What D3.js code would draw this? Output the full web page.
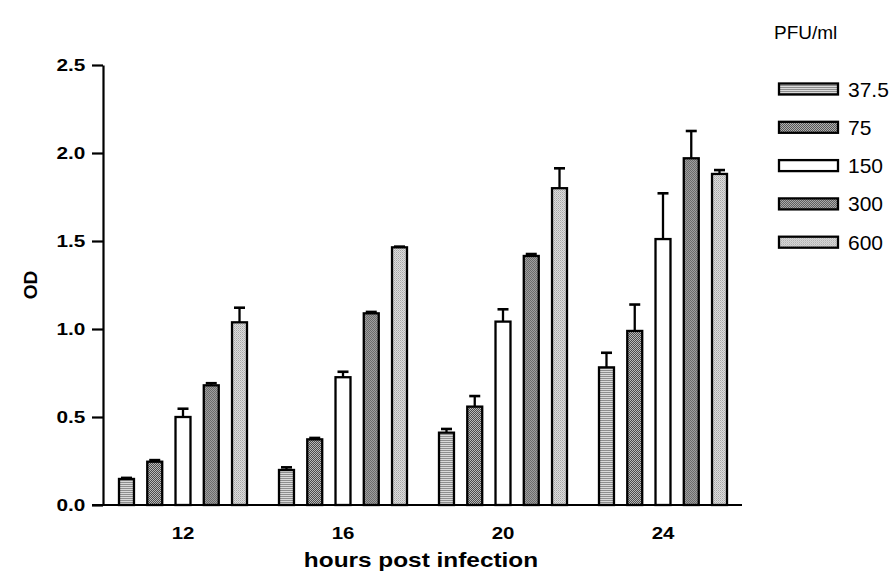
<!DOCTYPE html>
<html>
<head>
<meta charset="utf-8">
<script src="https://cdn.jsdelivr.net/npm/d3@7"></script>
<style>
  body { margin: 0; background: #fff; }
  text { font-family: "Liberation Sans", Arial, sans-serif; fill: #000; }
</style>
</head>
<body>
<div id="chart"></div>
<script>
// --- PART 1: DATA ---
const hours = ["12", "16", "20", "24"];
const doses = ["37.5", "75", "150", "300", "600"];

// mean OD per dose, one value per time point
const od37 = [0.148, 0.199, 0.411, 0.782];
const od75 = [0.246, 0.373, 0.559, 0.989];
const od150 = [0.500, 0.726, 1.042, 1.511];
const od300 = [0.680, 1.089, 1.415, 1.970];
const od600 = [1.038, 1.464, 1.800, 1.881];

// upper error bars
const err37 = [0.006, 0.015, 0.021, 0.083];
const err75 = [0.009, 0.008, 0.060, 0.150];
const err150 = [0.047, 0.031, 0.070, 0.260];
const err300 = [0.012, 0.008, 0.011, 0.155];
const err600 = [0.083, 0.004, 0.113, 0.022];

const yTicks = [0, 0.5, 1.0, 1.5, 2.0, 2.5];

const seriesValues = [od37, od75, od150, od300, od600];
const seriesErrors = [err37, err75, err150, err300, err600];

// flat table for the bars
const rows = [];
hours.forEach((h, i) => {
  doses.forEach((d, j) => {
    rows.push({ hour: h, dose: d, series: j, value: seriesValues[j][i], err: seriesErrors[j][i] });
  });
});

// --- PART 2: SVG + PATTERNS ---
const width = 893, height = 574;
const svg = d3.select("#chart").append("svg")
  .attr("width", width)
  .attr("height", height);

const defs = svg.append("defs");

// each pattern is a 2x2 tile: [topLeft, topRight, bottomLeft, bottomRight]
const patternCells = [
  ["#8e8e8e", "#8e8e8e", "#dadada", "#dadada"], // 37.5 horizontal stripes
  ["#111111", "#f4f4f4", "#f4f4f4", "#111111"], // 75 black/white dots
  ["#ffffff", "#ffffff", "#ffffff", "#ffffff"], // 150 white
  ["#555555", "#b4b4b4", "#b4b4b4", "#555555"], // 300 dark checker
  ["#a6a6a6", "#dedede", "#dedede", "#bcbcbc"]  // 600 light grey
];

patternCells.forEach((cells, k) => {
  const p = defs.append("pattern")
    .attr("id", "pat" + k)
    .attr("patternUnits", "userSpaceOnUse")
    .attr("width", 2)
    .attr("height", 2);
  cells.forEach((c, n) => {
    p.append("rect")
      .attr("x", n % 2)
      .attr("y", Math.floor(n / 2))
      .attr("width", 1)
      .attr("height", 1)
      .attr("fill", c)
      .attr("shape-rendering", "crispEdges");
  });
});

// --- PART 3: SCALES ---
const x0 = d3.scaleBand().domain(hours).range([103, 743]).padding(0);
const x1 = d3.scaleBand().domain(doses).range([16, 144]).paddingInner(0.47).paddingOuter(0);
const y = d3.scaleLinear().domain([0, 2.5]).range([505, 65]);

// --- PART 4: BARS + ERROR BARS ---
const groups = svg.append("g").selectAll("g")
  .data(rows)
  .enter()
  .append("g")
  .attr("transform", d => `translate(${x0(d.hour) + x1(d.dose)},0)`);

// error bar stem + cap (drawn first so the bar outline sits on top)
groups.append("line")
  .attr("x1", x1.bandwidth() / 2)
  .attr("x2", x1.bandwidth() / 2)
  .attr("y1", d => y(d.value))
  .attr("y2", d => y(d.value + d.err))
  .attr("stroke", "#000")
  .attr("stroke-width", 2.3);

groups.append("line")
  .attr("x1", x1.bandwidth() / 2 - 5.5)
  .attr("x2", x1.bandwidth() / 2 + 5.5)
  .attr("y1", d => y(d.value + d.err))
  .attr("y2", d => y(d.value + d.err))
  .attr("stroke", "#000")
  .attr("stroke-width", 2.6);

groups.append("rect")
  .attr("x", 0)
  .attr("y", d => y(d.value))
  .attr("width", x1.bandwidth())
  .attr("height", d => y(0) - y(d.value))
  .attr("fill", d => `url(#pat${d.series})`)
  .attr("stroke", "#000")
  .attr("stroke-width", 2.3);

// --- PART 5: AXES ---
const yAxis = svg.append("g")
  .attr("transform", "translate(103,0)")
  .call(d3.axisLeft(y).tickValues(yTicks).tickFormat(d3.format(".1f")).tickSize(11).tickSizeOuter(0).tickPadding(3));

yAxis.selectAll("path, line").attr("stroke", "#000").attr("stroke-width", 2.2);
yAxis.selectAll("text")
  .attr("font-size", 16.5)
  .attr("font-weight", "bold")
  .attr("transform", "scale(1.26,1)");

const xAxis = svg.append("g")
  .attr("transform", "translate(0,505)")
  .call(d3.axisBottom(x0).tickSize(0).tickSizeOuter(0).tickPadding(22));

xAxis.select("path").remove();
xAxis.selectAll("text")
  .attr("font-size", 16.5)
  .attr("font-weight", "bold")
  .attr("transform", "scale(1.24,1)");

// the x axis line itself runs from the y axis tick to the right edge
svg.append("line")
  .attr("x1", 92)
  .attr("x2", 742)
  .attr("y1", y(0))
  .attr("y2", y(0))
  .attr("stroke", "#000")
  .attr("stroke-width", 2.2);

// axis titles
svg.append("text")
  .attr("transform", "translate(421,567) scale(1.19,1)")
  .attr("text-anchor", "middle")
  .attr("font-size", 20.5)
  .attr("font-weight", "bold")
  .text("hours post infection");

svg.append("text")
  .attr("transform", "translate(37,285) rotate(-90)")
  .attr("text-anchor", "middle")
  .attr("font-size", 19)
  .attr("font-weight", "bold")
  .text("OD");

// --- PART 6: LEGEND ---
svg.append("text")
  .attr("x", 774)
  .attr("y", 39)
  .attr("font-size", 19)
  .text("PFU/ml");

const legend = svg.append("g").selectAll("g")
  .data(doses)
  .enter()
  .append("g")
  .attr("transform", (d, i) => `translate(779,${89 + i * 38.3})`);

legend.append("rect")
  .attr("x", 0)
  .attr("y", -5.5)
  .attr("width", 59)
  .attr("height", 11)
  .attr("fill", (d, i) => `url(#pat${i})`)
  .attr("stroke", "#000")
  .attr("stroke-width", 2.3);

legend.append("text")
  .attr("x", 69)
  .attr("y", 7.5)
  .attr("font-size", 21)
  .text(d => d);
</script>
</body>
</html>
